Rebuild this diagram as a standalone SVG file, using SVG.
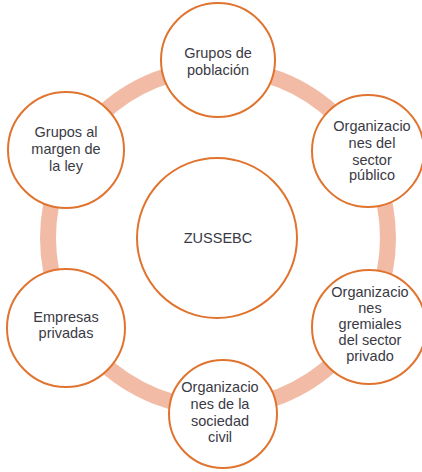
<svg xmlns="http://www.w3.org/2000/svg" width="422" height="472" viewBox="0 0 422 472">
<style>
.n{fill:#fff;stroke:#E0742F;stroke-width:2}
.t{font-family:"Liberation Sans",Arial,sans-serif;font-size:14.5px;fill:#3a3a44;text-anchor:middle}
.ring{fill:none;stroke:#F2BBA6;stroke-width:16}
</style>
<rect width="422" height="472" fill="#fff"/>
<g id="connectors">
<circle class="ring" cx="218" cy="238" r="170"/>
</g>
<g id="center">
<circle class="n" cx="217" cy="238" r="80"/>
<text class="t" x="218" y="243">ZUSSEBC</text>
</g>
<g id="grupos-poblacion">
<circle class="n" cx="218" cy="60" r="57"/>
<text class="t" x="218" y="58">Grupos de</text>
<text class="t" x="218" y="75">población</text>
</g>
<g id="org-sector-publico">
<circle class="n" cx="368" cy="151" r="56"/>
<text class="t" x="372" y="131">Organizacio</text>
<text class="t" x="372" y="148">nes del</text>
<text class="t" x="372" y="164.5">sector</text>
<text class="t" x="372" y="180">público</text>
</g>
<g id="org-gremiales">
<circle class="n" cx="369" cy="327" r="57"/>
<text class="t" x="370" y="297">Organizacio</text>
<text class="t" x="370" y="313">nes</text>
<text class="t" x="370" y="329">gremiales</text>
<text class="t" x="370" y="345">del sector</text>
<text class="t" x="370" y="361">privado</text>
</g>
<g id="org-sociedad-civil">
<circle class="n" cx="223" cy="414" r="54"/>
<text class="t" x="220" y="392">Organizacio</text>
<text class="t" x="220" y="409">nes de la</text>
<text class="t" x="220" y="426">sociedad</text>
<text class="t" x="220" y="442">civil</text>
</g>
<g id="empresas-privadas">
<circle class="n" cx="66" cy="328" r="59"/>
<text class="t" x="66" y="322">Empresas</text>
<text class="t" x="66" y="338">privadas</text>
</g>
<g id="grupos-margen-ley">
<circle class="n" cx="66" cy="150" r="58"/>
<text class="t" x="66" y="137">Grupos al</text>
<text class="t" x="66" y="154">margen de</text>
<text class="t" x="66" y="171">la ley</text>
</g>
</svg>
